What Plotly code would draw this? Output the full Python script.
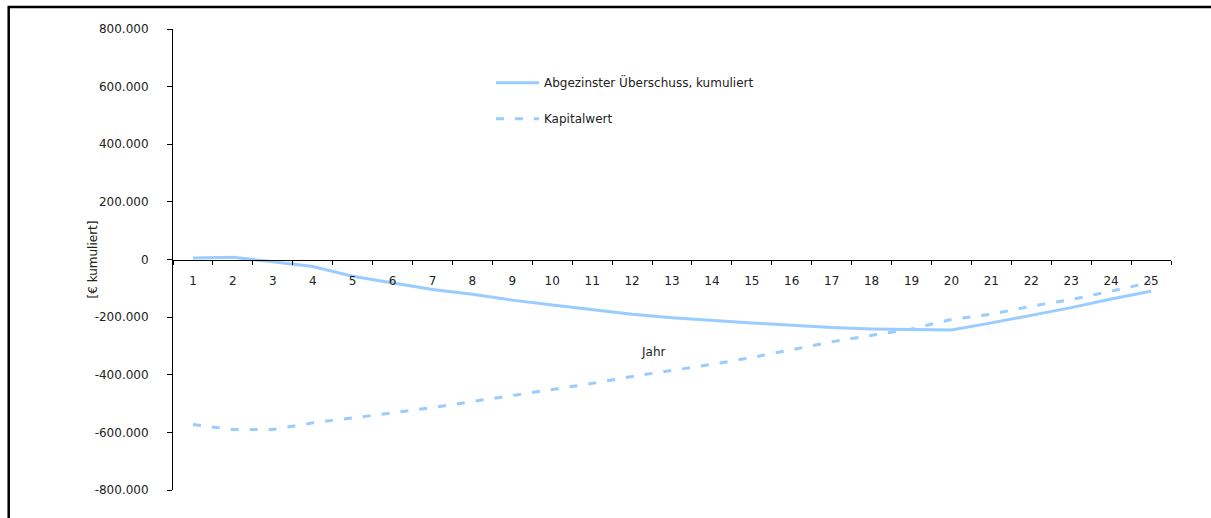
import plotly.graph_objects as go

years = [str(i) for i in range(1, 26)]
ueberschuss_kum = [5000, 8000, -8000, -24000, -58000, -80000, -104000, -121000, -141000, -158000,
                   -174000, -190000, -202000, -212000, -220000, -228000, -236000, -241000, -243000,
                   -245000, -220000, -194000, -167000, -137000, -110000]
kapitalwert = [-573000, -590000, -590000, -567000, -550000, -532000, -514000, -493000, -472000,
               -451000, -430000, -406000, -385000, -364000, -340000, -314000, -286000, -263000,
               -241000, -208000, -190000, -162000, -139000, -110000, -79000]
y_ticks = [-800000, -600000, -400000, -200000, 0, 200000, 400000, 600000, 800000]


def fmt(v):
    s = f"{abs(v):,}".replace(",", ".")
    return ("-" + s) if v < 0 else s


FONT = "DejaVu Sans"
COLOR = "#99CCFF"
TXT = "#222222"

fig = go.Figure()
fig.add_trace(go.Scatter(x=years, y=ueberschuss_kum, mode="lines",
                         name="Abgezinster Überschuss, kumuliert", legendgroup="a",
                         line=dict(color=COLOR, width=3)))
fig.add_trace(go.Scatter(x=years, y=kapitalwert, mode="lines",
                         name="Kapitalwert", legendgroup="b",
                         line=dict(color=COLOR, width=3, dash="8px,11px")))

fig.update_layout(
    width=1211, height=518,
    margin=dict(l=173, r=40, t=29, b=28),
    paper_bgcolor="white", plot_bgcolor="white",
    font=dict(family=FONT, size=12, color=TXT),
    showlegend=True,
    legend=dict(x=0.3186, y=0.915, xanchor="left", yanchor="top",
                bgcolor="rgba(0,0,0,0)", font=dict(family=FONT, size=12, color=TXT),
                tracegroupgap=17, itemwidth=43),
    xaxis=dict(type="category", range=[-0.5, 24.5], anchor="free", position=0.5,
               showline=True, linecolor="black", linewidth=1,
               ticks="outside", ticklen=4, tickcolor="black", tickson="boundaries",
               showgrid=False, zeroline=False, ticklabelstandoff=10,
               tickfont=dict(family=FONT, size=12, color=TXT)),
    yaxis=dict(range=[-800000, 800000], tickvals=y_ticks, ticktext=[fmt(v) for v in y_ticks],
               showline=True, linecolor="black", linewidth=1,
               ticks="outside", ticklen=5, tickcolor="black",
               showgrid=False, zeroline=False, ticklabelstandoff=16,
               tickfont=dict(family=FONT, size=12, color=TXT)),
    annotations=[
        dict(text="[€ kumuliert]", textangle=-90, xref="paper", yref="paper",
             x=(92 - 173) / 998, y=0.5, xanchor="center", yanchor="middle", showarrow=False,
             font=dict(family=FONT, size=12, color=TXT)),
        dict(text="Jahr", xref="paper", yref="paper",
             x=(653 - 173) / 998, y=(490 - 352) / 461, xanchor="center", yanchor="middle",
             showarrow=False, font=dict(family=FONT, size=12, color=TXT)),
    ],
    shapes=[
        dict(type="rect", xref="paper", yref="paper",
             x0=(8.7 - 173) / 998, x1=(1216 - 173) / 998,
             y0=(490 - 523) / 461, y1=1 + (29 - 7) / 461,
             line=dict(color="black", width=2.5), fillcolor="rgba(0,0,0,0)", layer="below"),
    ],
)

fig.write_html("out.html", config={"displayModeBar": False},
               post_script="document.body.style.margin='0';document.body.style.overflow='hidden';")
